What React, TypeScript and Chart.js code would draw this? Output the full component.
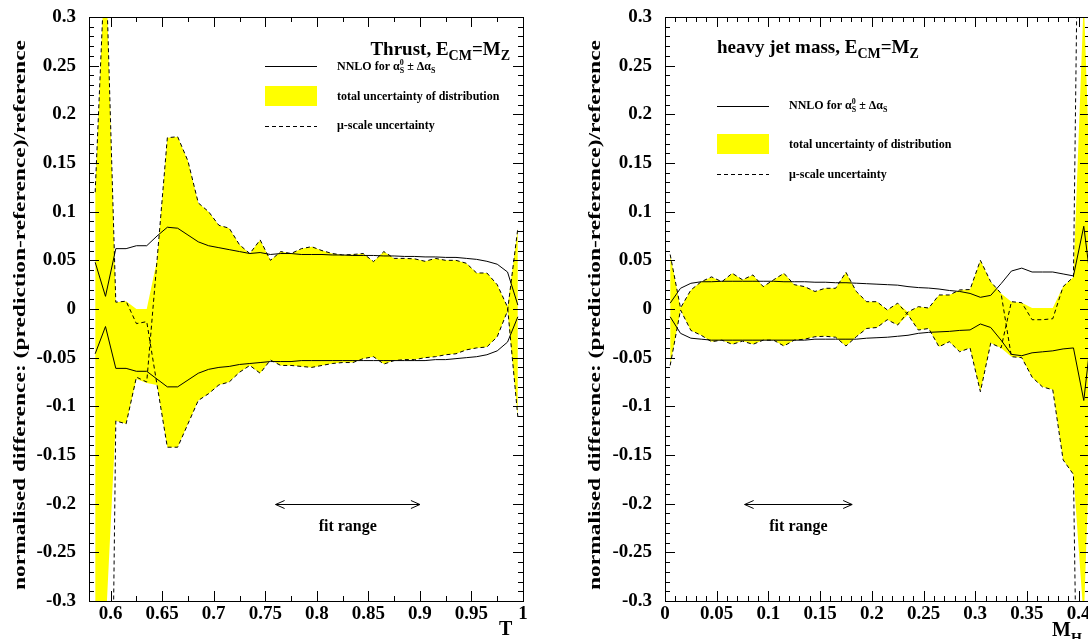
import React, { useEffect, useRef } from 'react';
import { Chart, registerables } from 'chart.js';
Chart.register(...registerables);

const FONT = "'Liberation Serif', 'Times New Roman', Times, serif";

// ---------------- Thrust panel data ----------------
const thrustT = [0.585, 0.595, 0.605, 0.615, 0.625, 0.635, 0.645, 0.655, 0.665, 0.675, 0.685, 0.695, 0.705, 0.715, 0.725, 0.735, 0.745, 0.755, 0.765, 0.775, 0.785, 0.795, 0.805, 0.815, 0.825, 0.835, 0.845, 0.855, 0.865, 0.875, 0.885, 0.895, 0.905, 0.915, 0.925, 0.935, 0.945, 0.955, 0.965, 0.975, 0.985, 0.995];
const thrustTotalUp = [0.12, 0.37, 0.007, 0.008, 0.0, 0.0, 0.05, 0.176, 0.177, 0.152, 0.109, 0.1, 0.086, 0.083, 0.066, 0.057, 0.071, 0.05, 0.059, 0.057, 0.062, 0.064, 0.06, 0.057, 0.0555, 0.056, 0.057, 0.0487, 0.059, 0.052, 0.052, 0.0515, 0.049, 0.052, 0.05, 0.05, 0.047, 0.037, 0.037, 0.025, 0.002, 0.083];
const thrustTotalLo = [-0.4, -0.33, -0.115, -0.118, -0.072, -0.076, -0.078, -0.142, -0.142, -0.118, -0.094, -0.087, -0.078, -0.075, -0.065, -0.058, -0.066, -0.0525, -0.058, -0.058, -0.059, -0.06, -0.058, -0.056, -0.055, -0.055, -0.051, -0.049, -0.0566, -0.053, -0.052, -0.052, -0.05, -0.049, -0.047, -0.046, -0.042, -0.04, -0.039, -0.0285, -0.002, -0.111];
const thrustMuA = [0.12, 0.37, 0.007, 0.008, -0.015, -0.013, -0.078, -0.142, -0.142, -0.118, -0.094, -0.087, -0.078, -0.075, -0.065, -0.058, -0.066, -0.0525, -0.058, -0.058, -0.059, -0.06, -0.058, -0.056, -0.055, -0.055, -0.051, -0.049, -0.0566, -0.053, -0.052, -0.052, -0.05, -0.049, -0.047, -0.046, -0.042, -0.04, -0.039, -0.0285, -0.002, 0.083];
const thrustMuB = [-0.4, -1.0, -0.115, -0.118, -0.07, -0.075, 0.05, 0.176, 0.177, 0.152, 0.109, 0.1, 0.086, 0.083, 0.066, 0.057, 0.071, 0.05, 0.059, 0.057, 0.062, 0.064, 0.06, 0.057, 0.0555, 0.056, 0.057, 0.0487, 0.059, 0.052, 0.052, 0.0515, 0.049, 0.052, 0.05, 0.05, 0.047, 0.037, 0.037, 0.025, 0.002, -0.111];
const thrustAlphaUp = [0.048, 0.013, 0.062, 0.062, 0.065, 0.065, 0.075, 0.084, 0.083, 0.076, 0.069, 0.065, 0.063, 0.061, 0.059, 0.057, 0.058, 0.056, 0.057, 0.057, 0.056, 0.056, 0.056, 0.0555, 0.0555, 0.055, 0.055, 0.055, 0.0545, 0.0545, 0.054, 0.054, 0.0535, 0.0535, 0.053, 0.053, 0.052, 0.051, 0.049, 0.046, 0.038, 0.004];
const thrustAlphaLo = [-0.046, -0.018, -0.061, -0.061, -0.064, -0.064, -0.072, -0.08, -0.08, -0.073, -0.066, -0.062, -0.06, -0.059, -0.057, -0.056, -0.055, -0.054, -0.054, -0.054, -0.053, -0.053, -0.053, -0.053, -0.053, -0.053, -0.053, -0.053, -0.053, -0.053, -0.053, -0.053, -0.053, -0.052, -0.052, -0.051, -0.05, -0.049, -0.047, -0.043, -0.034, -0.008];
const thrustFitRange = [0.76, 0.9];
const thrustXTicks = [0.6, 0.65, 0.7, 0.75, 0.8, 0.85, 0.9, 0.95, 1.0];
const thrustXTickLabels = ['0.6', '0.65', '0.7', '0.75', '0.8', '0.85', '0.9', '0.95', '1'];

// ---------------- Heavy jet mass panel data ----------------
const mhM = [0.005, 0.015, 0.025, 0.035, 0.045, 0.055, 0.065, 0.075, 0.085, 0.095, 0.105, 0.115, 0.125, 0.135, 0.145, 0.155, 0.165, 0.175, 0.185, 0.195, 0.205, 0.215, 0.225, 0.235, 0.245, 0.255, 0.265, 0.275, 0.285, 0.295, 0.305, 0.315, 0.325, 0.335, 0.345, 0.355, 0.365, 0.375, 0.385, 0.395, 0.405, 0.415];
const mhTotalUp = [0.056, 0.001, 0.0195, 0.028, 0.033, 0.028, 0.0367, 0.03, 0.035, 0.023, 0.03, 0.0367, 0.025, 0.023, 0.018, 0.0213, 0.0213, 0.0377, 0.018, 0.0075, 0.0075, -0.001, 0.006, -0.003, 0.0024, 0.001, 0.0144, 0.0144, 0.0196, 0.02, 0.05, 0.028, 0.016, 0.0075, 0.0065, 0.001, 0.001, 0.001, 0.023, 0.033, 0.32, 0.0];
const mhTotalLo = [-0.058, -0.001, -0.022, -0.027, -0.0336, -0.032, -0.0363, -0.033, -0.0363, -0.032, -0.032, -0.038, -0.032, -0.031, -0.0285, -0.028, -0.029, -0.038, -0.0285, -0.02, -0.019, -0.011, -0.0165, -0.006, -0.0216, -0.02, -0.0388, -0.0336, -0.044, -0.04, -0.085, -0.035, -0.04, -0.049, -0.05, -0.07, -0.08, -0.083, -0.155, -0.17, -0.32, 0.0];
const mhMuA = [0.056, 0.001, 0.0195, 0.028, 0.033, 0.028, 0.0367, 0.03, 0.035, 0.023, 0.03, 0.0367, 0.025, 0.023, 0.018, 0.0213, 0.0213, 0.0377, 0.018, 0.0075, 0.0075, -0.001, 0.006, -0.006, -0.0216, -0.02, -0.0388, -0.0336, -0.044, -0.04, -0.085, -0.035, -0.04, 0.0075, 0.0065, -0.011, -0.011, -0.01, 0.023, 0.033, 0.9, 0.2];
const mhMuB = [-0.058, -0.001, -0.022, -0.027, -0.0336, -0.032, -0.0363, -0.033, -0.0363, -0.032, -0.032, -0.038, -0.032, -0.031, -0.0285, -0.028, -0.029, -0.038, -0.0285, -0.02, -0.019, -0.011, -0.0165, -0.003, 0.0024, 0.001, 0.0144, 0.0144, 0.0196, 0.02, 0.05, 0.028, 0.016, -0.049, -0.05, -0.07, -0.08, -0.083, -0.155, -0.17, -0.9, -0.2];
const mhAlphaUp = [0.006, 0.0213, 0.0264, 0.028, 0.028, 0.0285, 0.0285, 0.0285, 0.0285, 0.0285, 0.0285, 0.028, 0.028, 0.028, 0.0275, 0.0275, 0.027, 0.027, 0.0265, 0.026, 0.0255, 0.025, 0.0245, 0.023, 0.022, 0.0215, 0.0205, 0.019, 0.018, 0.016, 0.012, 0.014, 0.026, 0.039, 0.042, 0.038, 0.038, 0.038, 0.036, 0.034, 0.085, 0.0];
const mhAlphaLo = [-0.008, -0.025, -0.03, -0.031, -0.032, -0.032, -0.032, -0.032, -0.032, -0.032, -0.032, -0.032, -0.032, -0.032, -0.031, -0.031, -0.031, -0.031, -0.031, -0.03, -0.0295, -0.029, -0.028, -0.027, -0.025, -0.024, -0.0235, -0.023, -0.022, -0.0215, -0.0154, -0.019, -0.032, -0.0466, -0.048, -0.045, -0.044, -0.043, -0.041, -0.04, -0.094, 0.0];
const mhFitRange = [0.077, 0.181];
const mhXTicks = [0, 0.05, 0.1, 0.15, 0.2, 0.25, 0.3, 0.35, 0.4];
const mhXTickLabels = ['0', '0.05', '0.1', '0.15', '0.2', '0.25', '0.3', '0.35', '0.4'];

// ---------------- shared axis data ----------------
const yTicks = [-0.3, -0.25, -0.2, -0.15, -0.1, -0.05, 0, 0.05, 0.1, 0.15, 0.2, 0.25, 0.3];
const yTickLabels = ['-0.3', '-0.25', '-0.2', '-0.15', '-0.1', '-0.05', '0', '0.05', '0.1', '0.15', '0.2', '0.25', '0.3'];
const fitRangeLevel = -0.2;
const yTitle = 'normalised difference: (prediction-reference)/reference';

type Seg = { t: string; size: number; dy?: number; adv?: boolean };

function drawSegs(ctx: CanvasRenderingContext2D, x: number, y: number, segs: Seg[], align: 'left' | 'right' | 'center' = 'left') {
  let total = 0;
  for (const s of segs) {
    ctx.font = `bold ${s.size}px ${FONT}`;
    if (s.adv !== false) total += ctx.measureText(s.t).width;
  }
  let cx = align === 'left' ? x : align === 'right' ? x - total : x - total / 2;
  ctx.textAlign = 'left';
  ctx.textBaseline = 'alphabetic';
  ctx.fillStyle = '#000';
  for (const s of segs) {
    ctx.font = `bold ${s.size}px ${FONT}`;
    ctx.fillText(s.t, cx, y + (s.dy || 0));
    if (s.adv !== false) cx += ctx.measureText(s.t).width;
  }
}

const legendNNLO: Seg[] = [
  { t: 'NNLO for α', size: 12 },
  { t: '0', size: 8, dy: -5, adv: false },
  { t: 'S', size: 8, dy: 3 },
  { t: ' ± Δα', size: 12 },
  { t: 'S', size: 8, dy: 3 },
];

type Deco = {
  xMinorDiv: number;
  title: Seg[]; titleX: number; titleY: number; titleAlign: 'left' | 'right';
  legX0: number; legX1: number; legTextX: number;
  legLineY: number; legText1Y: number; boxTop: number; boxBot: number; legText2Y: number; legDashY: number; legText3Y: number;
  yTitleX: number; yTitleY: number;
  xTitle: Seg[]; xTitleX: number; xTitleY: number;
  fit: number[];
};

function makeDecoPlugin(d: Deco) {
  return {
    id: 'deco',
    afterDraw(chart: any) {
      const ctx: CanvasRenderingContext2D = chart.ctx;
      const a = chart.chartArea;
      const xs = chart.scales.x;
      const ys = chart.scales.y;
      ctx.save();
      ctx.strokeStyle = '#000';
      ctx.lineWidth = 1;
      ctx.setLineDash([]);
      // frame
      ctx.strokeRect(Math.round(a.left) + 0.5, Math.round(a.top) + 0.5, Math.round(a.right - a.left), Math.round(a.bottom - a.top));
      const line = (x0: number, y0: number, x1: number, y1: number) => {
        ctx.beginPath(); ctx.moveTo(x0, y0); ctx.lineTo(x1, y1); ctx.stroke();
      };
      // x ticks
      const xv: number[] = xs.ticks.map((t: any) => t.value);
      const majL = 10, minL = 5;
      const xTick = (v: number, len: number) => {
        const p = Math.round(xs.getPixelForValue(v)) + 0.5;
        if (p < a.left || p > a.right + 1) return;
        line(p, a.bottom, p, a.bottom - len);
        line(p, a.top, p, a.top + len);
      };
      for (let i = 0; i < xv.length; i++) {
        xTick(xv[i], majL);
        const step = i + 1 < xv.length ? xv[i + 1] - xv[i] : xv[1] - xv[0];
        for (let k = 1; k < d.xMinorDiv; k++) xTick(xv[i] + (step * k) / d.xMinorDiv, minL);
        if (i === 0) for (let k = 1; k < d.xMinorDiv; k++) xTick(xv[0] - (step * k) / d.xMinorDiv, minL);
      }
      // y ticks
      const yv: number[] = ys.ticks.map((t: any) => t.value);
      const yTick = (v: number, len: number) => {
        const p = Math.round(ys.getPixelForValue(v)) + 0.5;
        line(a.left, p, a.left + len, p);
        line(a.right, p, a.right - len, p);
      };
      for (let i = 0; i < yv.length; i++) {
        yTick(yv[i], majL);
        if (i + 1 < yv.length) {
          const step = yv[i + 1] - yv[i];
          for (let k = 1; k < 5; k++) yTick(yv[i] + (step * k) / 5, minL);
        }
      }
      // title
      drawSegs(ctx, d.titleX, d.titleY, d.title, d.titleAlign);
      // legend
      line(d.legX0, d.legLineY + 0.5, d.legX1, d.legLineY + 0.5);
      drawSegs(ctx, d.legTextX, d.legText1Y, legendNNLO);
      ctx.fillStyle = '#ffff00';
      ctx.fillRect(d.legX0, d.boxTop, d.legX1 - d.legX0, d.boxBot - d.boxTop);
      drawSegs(ctx, d.legTextX, d.legText2Y, [{ t: 'total uncertainty of distribution', size: 12 }]);
      ctx.setLineDash([4, 3]);
      line(d.legX0, d.legDashY + 0.5, d.legX1, d.legDashY + 0.5);
      ctx.setLineDash([]);
      drawSegs(ctx, d.legTextX, d.legText3Y, [{ t: 'μ-scale uncertainty', size: 12 }]);
      // fit range arrow
      const fx0 = xs.getPixelForValue(d.fit[0]);
      const fx1 = xs.getPixelForValue(d.fit[1]);
      const fy = Math.round(ys.getPixelForValue(fitRangeLevel)) + 0.5;
      line(fx0, fy, fx1, fy);
      line(fx0, fy, fx0 + 9, fy - 4); line(fx0, fy, fx0 + 9, fy + 4);
      line(fx1, fy, fx1 - 9, fy - 4); line(fx1, fy, fx1 - 9, fy + 4);
      drawSegs(ctx, (fx0 + fx1) / 2, fy + 26, [{ t: 'fit range', size: 16 }], 'center');
      // y title
      ctx.save();
      ctx.translate(d.yTitleX, d.yTitleY);
      ctx.rotate(-Math.PI / 2);
      ctx.font = `bold 17px ${FONT}`;
      const tw = ctx.measureText(yTitle).width;
      ctx.scale(550 / tw, 1);
      ctx.textAlign = 'center';
      ctx.textBaseline = 'middle';
      ctx.fillStyle = '#000';
      ctx.fillText(yTitle, 0, 0);
      ctx.restore();
      // x title
      drawSegs(ctx, d.xTitleX, d.xTitleY, d.xTitle);
      ctx.restore();
    },
  };
}

function xy(xv: number[], yv: number[]) {
  return xv.map((x, i) => ({ x, y: yv[i] }));
}

type PanelProps = {
  x: number[]; totUp: number[]; totLo: number[]; muA: number[]; muB: number[]; alUp: number[]; alLo: number[];
  xMin: number; xMax: number; xTicks: number[]; xLabels: string[];
  width: number; padRight: number; yAxisWidth: number; deco: Deco; left: number;
};

function Panel(p: PanelProps) {
  const ref = useRef<HTMLCanvasElement | null>(null);
  useEffect(() => {
    if (!ref.current) return;
    const lineDs = (data: number[], dash: number[]) => ({
      data: xy(p.x, data), borderColor: '#000', borderWidth: 1, borderDash: dash, fill: false,
      pointRadius: 0, tension: 0, clip: 0, order: 0,
    });
    const tickFont = { family: FONT, size: 19, weight: 'bold' as const };
    const chart = new Chart(ref.current, {
      type: 'line',
      data: {
        datasets: [
          { data: xy(p.x, p.totUp), borderWidth: 0, borderColor: 'rgba(0,0,0,0)', backgroundColor: '#ffff00', fill: '+1', pointRadius: 0, tension: 0, clip: 0, order: 10 } as any,
          { data: xy(p.x, p.totLo), borderWidth: 0, borderColor: 'rgba(0,0,0,0)', backgroundColor: '#ffff00', fill: false, pointRadius: 0, tension: 0, clip: 0, order: 10 } as any,
          lineDs(p.muA, [4, 3]),
          lineDs(p.muB, [4, 3]),
          lineDs(p.alUp, []),
          lineDs(p.alLo, []),
        ],
      },
      options: {
        animation: false,
        responsive: false,
        maintainAspectRatio: false,
        layout: { padding: { left: 0, right: p.padRight, top: 17, bottom: 0 } },
        plugins: { legend: { display: false }, tooltip: { enabled: false }, filler: { drawTime: 'beforeDatasetsDraw' } },
        scales: {
          x: {
            type: 'linear', min: p.xMin, max: p.xMax,
            afterBuildTicks: (s: any) => { s.ticks = p.xTicks.map((v) => ({ value: v })); },
            afterFit: (s: any) => { s.height = 38; s.paddingLeft = 0; s.paddingRight = 0; },
            ticks: { autoSkip: false, maxRotation: 0, color: '#000', font: tickFont, padding: 2, callback: (_v: any, i: number) => p.xLabels[i] },
            grid: { display: false, drawTicks: false, tickLength: 0 },
            border: { display: false },
          },
          y: {
            type: 'linear', min: -0.3, max: 0.3,
            afterBuildTicks: (s: any) => { s.ticks = yTicks.map((v) => ({ value: v })); },
            afterFit: (s: any) => { s.width = p.yAxisWidth; s.paddingTop = 0; s.paddingBottom = 0; },
            ticks: { autoSkip: false, color: '#000', font: tickFont, padding: 13, callback: (_v: any, i: number) => yTickLabels[i] },
            grid: { display: false, drawTicks: false, tickLength: 0 },
            border: { display: false },
          },
        },
      } as any,
      plugins: [makeDecoPlugin(p.deco)],
    });
    return () => chart.destroy();
  }, []);
  return (
    <canvas ref={ref} width={p.width} height={639}
      style={{ position: 'absolute', left: p.left, top: 0, width: p.width, height: 639 }} />
  );
}

export default function App() {
  const R = 560; // right canvas offset
  const thrustDeco: Deco = {
    xMinorDiv: 2,
    title: [
      { t: 'Thrust, E', size: 19 }, { t: 'CM', size: 14, dy: 5 }, { t: '=M', size: 19 }, { t: 'Z', size: 14, dy: 5 },
    ],
    titleX: 510, titleY: 55, titleAlign: 'right',
    legX0: 265, legX1: 317, legTextX: 337,
    legLineY: 66, legText1Y: 70, boxTop: 86, boxBot: 106, legText2Y: 100, legDashY: 126, legText3Y: 129,
    yTitleX: 21, yTitleY: 315,
    xTitle: [{ t: 'T', size: 20 }], xTitleX: 499, xTitleY: 635,
    fit: thrustFitRange,
  };
  const mhDeco: Deco = {
    xMinorDiv: 5,
    title: [
      { t: 'heavy jet mass, E', size: 19 }, { t: 'CM', size: 14, dy: 5 }, { t: '=M', size: 19 }, { t: 'Z', size: 14, dy: 5 },
    ],
    titleX: 717 - R, titleY: 53, titleAlign: 'left',
    legX0: 717 - R, legX1: 769 - R, legTextX: 789 - R,
    legLineY: 106, legText1Y: 109, boxTop: 134, boxBot: 154, legText2Y: 148, legDashY: 174, legText3Y: 178,
    yTitleX: 596 - R, yTitleY: 315,
    xTitle: [{ t: 'M', size: 20 }, { t: 'H', size: 14, dy: 7 }], xTitleX: 1052 - R, xTitleY: 636,
    fit: mhFitRange,
  };
  return (
    <div style={{ position: 'fixed', left: 0, top: 0, width: 1088, height: 639, overflow: 'hidden', background: '#fff' }}>
      <Panel x={thrustT} totUp={thrustTotalUp} totLo={thrustTotalLo} muA={thrustMuA} muB={thrustMuB}
        alUp={thrustAlphaUp} alLo={thrustAlphaLo} xMin={0.579} xMax={1.0} xTicks={thrustXTicks} xLabels={thrustXTickLabels}
        width={560} padRight={37} yAxisWidth={89} deco={thrustDeco} left={0} />
      <Panel x={mhM} totUp={mhTotalUp} totLo={mhTotalLo} muA={mhMuA} muB={mhMuB}
        alUp={mhAlphaUp} alLo={mhAlphaLo} xMin={0} xMax={0.411} xTicks={mhXTicks} xLabels={mhXTickLabels}
        width={540} padRight={10} yAxisWidth={665 - R} deco={mhDeco} left={R} />
    </div>
  );
}
